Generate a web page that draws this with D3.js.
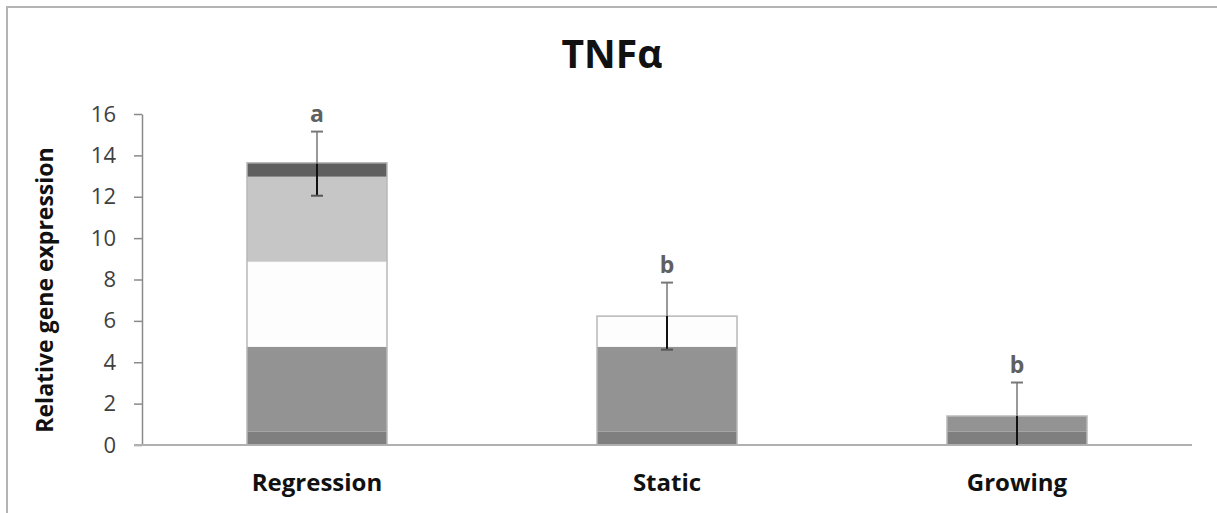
<!DOCTYPE html>
<html>
<head>
<meta charset="utf-8">
<script src="https://cdn.jsdelivr.net/npm/d3@7"></script>
<style>
  body { margin: 0; background: #fff; }
  text { font-family: "Open Sans", "DejaVu Sans", sans-serif; }
</style>
</head>
<body>
<div id="chart"></div>
<script>
// categories and stacked segment values (bottom to top)
const categories = ["Regression", "Static", "Growing"];
const seg1 = [0.64, 0.64, 0.64];
const seg2 = [4.11, 4.11, 0.76];
const seg3 = [4.11, 1.48, 0];
const seg4 = [4.11, 0, 0];
const seg5 = [0.67, 0, 0];
const errMean = [13.6, 6.23, 1.40];
const errSize = [1.55, 1.62, 1.62];
const sigLetters = ["a", "b", "b"];
const yTicks = [0, 2, 4, 6, 8, 10, 12, 14, 16];

const segColors = ["#7f7f7f", "#939393", "#fdfdfd", "#c6c6c6", "#5f5f5f"];

const W = 1217, H = 513;
const margin = {top: 114, right: 25, bottom: 68, left: 142};
const innerW = W - margin.left - margin.right,
      innerH = H - margin.top - margin.bottom;

const svg = d3.select("#chart").append("svg")
  .attr("width", W).attr("height", H);

// outer frame (left and top edges visible)
svg.append("path")
  .attr("d", `M7,${H} L7,7 L${W},7`)
  .attr("fill", "none").attr("stroke", "#b4b4b4").attr("stroke-width", 2);

const g = svg.append("g").attr("transform", `translate(${margin.left},${margin.top})`);

const x = d3.scaleBand().domain(categories).range([0, innerW]).paddingInner(0.6).paddingOuter(0.3);
const y = d3.scaleLinear().domain([0, 16]).range([innerH, 0]);

// stack the segments
const rows = categories.map((c, i) => ({cat: c, s1: seg1[i], s2: seg2[i], s3: seg3[i], s4: seg4[i], s5: seg5[i]}));
const keys = ["s1", "s2", "s3", "s4", "s5"];
const stacked = d3.stack().keys(keys)(rows);

g.selectAll("g.layer")
  .data(stacked)
  .enter().append("g")
  .attr("class", "layer")
  .attr("fill", (d, i) => segColors[i])
  .selectAll("rect")
  .data(d => d.filter(v => v[1] - v[0] > 0))
  .enter().append("rect")
  .attr("x", d => x(d.data.cat))
  .attr("width", x.bandwidth())
  .attr("y", d => y(d[1]))
  .attr("height", d => y(d[0]) - y(d[1]));

// bar outlines
const total = i => seg1[i] + seg2[i] + seg3[i] + seg4[i] + seg5[i];
g.selectAll("rect.outline")
  .data(categories)
  .enter().append("rect")
  .attr("class", "outline")
  .attr("x", d => x(d))
  .attr("width", x.bandwidth())
  .attr("y", (d, i) => y(total(i)))
  .attr("height", (d, i) => innerH - y(total(i)))
  .attr("fill", "none")
  .attr("stroke", "#b8b8b8")
  .attr("stroke-width", 1.5);

// y axis
const yAxis = g.append("g")
  .call(d3.axisLeft(y).tickValues(yTicks).tickSize(8).tickSizeOuter(0).tickPadding(18));
yAxis.select(".domain").attr("stroke", "#8a8a8a").attr("stroke-width", 1.5);
yAxis.selectAll(".tick line").attr("stroke", "#8a8a8a").attr("stroke-width", 1.5);
yAxis.selectAll(".tick text")
  .attr("font-size", 22).attr("fill", "#404040")
  .style("font-family", "'Open Sans', sans-serif");

// x baseline
g.append("line")
  .attr("x1", -8).attr("x2", innerW)
  .attr("y1", innerH).attr("y2", innerH)
  .attr("stroke", "#b0b0b0").attr("stroke-width", 2);

// error bars
const eb = g.selectAll("g.err").data(categories).enter().append("g").attr("class", "err");
const cx = d => x(d) + x.bandwidth() / 2;
eb.append("line")
  .attr("x1", cx).attr("x2", cx)
  .attr("y1", (d, i) => y(errMean[i] + errSize[i]))
  .attr("y2", (d, i) => y(errMean[i]))
  .attr("stroke", "#777").attr("stroke-width", 1.5);
eb.append("line")
  .attr("x1", cx).attr("x2", cx)
  .attr("y1", (d, i) => y(errMean[i]))
  .attr("y2", (d, i) => y(Math.max(0, errMean[i] - errSize[i])))
  .attr("stroke", "#111").attr("stroke-width", 2);
eb.append("line")
  .attr("x1", d => cx(d) - 6).attr("x2", d => cx(d) + 6)
  .attr("y1", (d, i) => y(errMean[i] + errSize[i]))
  .attr("y2", (d, i) => y(errMean[i] + errSize[i]))
  .attr("stroke", "#777").attr("stroke-width", 2);
eb.filter((d, i) => errMean[i] - errSize[i] > 0).append("line")
  .attr("x1", d => cx(d) - 6).attr("x2", d => cx(d) + 6)
  .attr("y1", (d, i) => y(errMean[i] - errSize[i]))
  .attr("y2", (d, i) => y(errMean[i] - errSize[i]))
  .attr("stroke", "#555").attr("stroke-width", 2);

// significance letters
eb.append("text")
  .attr("x", cx)
  .attr("y", (d, i) => y(errMean[i] + errSize[i]) - 10)
  .attr("text-anchor", "middle")
  .attr("font-size", 23).attr("font-weight", "bold").attr("fill", "#606060")
  .text((d, i) => sigLetters[i]);

// category labels
g.selectAll("text.cat").data(categories).enter().append("text")
  .attr("class", "cat")
  .attr("x", cx).attr("y", innerH + 46)
  .attr("text-anchor", "middle")
  .attr("font-size", 24).attr("font-weight", "bold").attr("fill", "#111")
  .text(d => d);

// y title
svg.append("text")
  .attr("transform", `translate(53,290) rotate(-90)`)
  .attr("text-anchor", "middle")
  .attr("font-size", 23).attr("font-weight", "bold").attr("fill", "#111")
  .text("Relative gene expression");

// title
svg.append("text")
  .attr("x", 612).attr("y", 68)
  .attr("text-anchor", "middle")
  .attr("font-size", 39).attr("font-weight", "bold").attr("fill", "#111")
  .text("TNFα");
</script>
</body>
</html>
